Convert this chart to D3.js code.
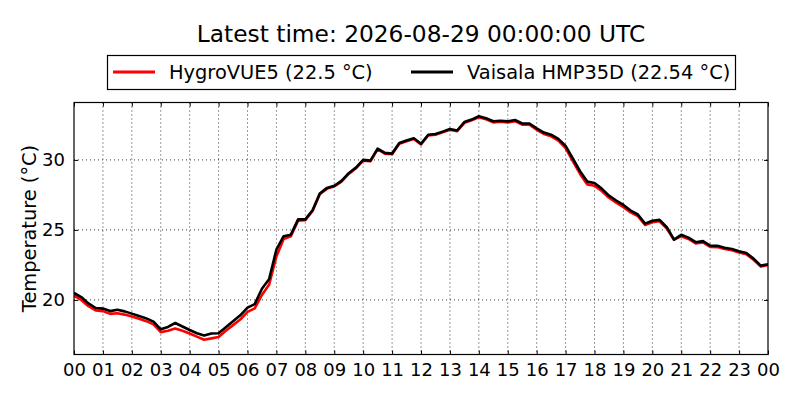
<!DOCTYPE html>
<html>
<head>
<meta charset="utf-8">
<script src="https://cdn.jsdelivr.net/npm/d3@7"></script>
<style>
  body { margin: 0; background: #fff; }
  text { font-family: "DejaVu Sans", sans-serif; fill: #000; }
</style>
</head>
<body>
<div id="chart"></div>
<script>
// 15-minute samples, hours 0..24 on 2026-08-28
const hours = d3.range(0, 24.01, 0.25);

const hygroVUE5 = [
  20.3, 20.0, 19.55, 19.25, 19.2, 19.0, 19.05, 18.95,
  18.82, 18.65, 18.48, 18.25, 17.7, 17.8, 17.95, 17.8,
  17.6, 17.38, 17.15, 17.25, 17.35, 17.8, 18.2, 18.6,
  19.15, 19.4, 20.35, 21.1, 23.1, 24.35, 24.55, 25.65,
  25.7, 26.35, 27.55, 27.95, 28.1, 28.45, 29.0, 29.4,
  29.95, 29.9, 30.75, 30.45, 30.4, 31.15, 31.33, 31.5,
  31.1, 31.75, 31.8, 31.97, 32.15, 32.05, 32.65, 32.83,
  33.05, 32.9, 32.68, 32.72, 32.67, 32.77, 32.52, 32.52,
  32.15, 31.85, 31.68, 31.38, 30.85, 29.92, 29.0, 28.25,
  28.15, 27.78, 27.3, 26.95, 26.62, 26.25, 25.98, 25.35,
  25.55, 25.62, 25.1, 24.3, 24.55, 24.35, 24.03, 24.1,
  23.78, 23.77, 23.63, 23.55, 23.39, 23.27, 22.87, 22.38,
  22.5
];

const vaisalaHMP35D = [
  20.5, 20.2, 19.75, 19.42, 19.38, 19.2, 19.3, 19.18,
  19.02, 18.85, 18.68, 18.45, 17.9, 18.07, 18.35, 18.1,
  17.85, 17.62, 17.45, 17.6, 17.62, 18.05, 18.47, 18.9,
  19.45, 19.7, 20.8, 21.5, 23.6, 24.55, 24.66, 25.75,
  25.75, 26.4, 27.6, 28.0, 28.15, 28.5, 29.05, 29.45,
  30.0, 29.95, 30.8, 30.5, 30.45, 31.2, 31.38, 31.55,
  31.15, 31.8, 31.85, 32.02, 32.2, 32.1, 32.7, 32.88,
  33.12, 32.98, 32.76, 32.8, 32.75, 32.85, 32.6, 32.6,
  32.25, 31.95, 31.8, 31.5, 31.0, 30.1, 29.19, 28.45,
  28.35, 27.95, 27.45, 27.1, 26.78, 26.38, 26.1, 25.45,
  25.65, 25.72, 25.2, 24.3, 24.65, 24.45, 24.12, 24.2,
  23.88, 23.86, 23.72, 23.63, 23.47, 23.35, 22.95, 22.45,
  22.54
];

const seriesNames = ["HygroVUE5 (22.5 °C)", "Vaisala HMP35D (22.54 °C)"];
const seriesColors = ["#ff0000", "#000000"];
const xTickLabels = d3.range(0, 25).map(h => String(h % 24).padStart(2, "0"));
const yTicks = [20, 25, 30];

const width = 800;
const height = 400;
const margin = { top: 102.5, right: 32, bottom: 45.5, left: 74 };

const svg = d3
  .select("#chart")
  .append("svg")
  .attr("width", width)
  .attr("height", height);

const x = d3
  .scaleLinear()
  .domain([0, 24])
  .range([margin.left, width - margin.right]);

const y = d3
  .scaleLinear()
  .domain([16.1, 34.1])
  .range([height - margin.bottom, margin.top]);

const plotW = width - margin.left - margin.right;
const plotH = height - margin.top - margin.bottom;

// dotted grid
svg.append("g")
  .selectAll("line")
  .data(d3.range(1, 24))
  .join("line")
  .attr("x1", d => x(d)).attr("x2", d => x(d))
  .attr("y1", margin.top).attr("y2", height - margin.bottom)
  .attr("stroke", "#000").attr("stroke-width", 0.8)
  .attr("stroke-dasharray", "1,3");

svg.append("g")
  .selectAll("line")
  .data(yTicks)
  .join("line")
  .attr("x1", margin.left).attr("x2", width - margin.right)
  .attr("y1", d => y(d)).attr("y2", d => y(d))
  .attr("stroke", "#000").attr("stroke-width", 0.8)
  .attr("stroke-dasharray", "1,3");

// data lines, red first, black on top
const line = vals => d3.line()
  .x((d, i) => x(hours[i]))
  .y(d => y(d))(vals);

const plot = svg.append("g");
plot.append("clipPath").attr("id", "clip")
  .append("rect")
  .attr("x", margin.left).attr("y", margin.top)
  .attr("width", plotW).attr("height", plotH);

[hygroVUE5, vaisalaHMP35D].forEach((vals, k) => {
  plot.append("path")
    .attr("d", line(vals))
    .attr("fill", "none")
    .attr("stroke", seriesColors[k])
    .attr("stroke-width", 2.6)
    .attr("stroke-linejoin", "round")
    .attr("clip-path", "url(#clip)");
});

// axes with inward ticks on all four sides
const xAxis = g => g
  .attr("transform", `translate(0,${height - margin.bottom})`)
  .call(d3.axisBottom(x).tickValues(d3.range(0, 25)).tickSize(-4).tickPadding(9)
    .tickFormat((d, i) => xTickLabels[i]))
  .call(g => g.select(".domain").remove())
  .call(g => g.selectAll("text").attr("font-size", 18).attr("font-family", "DejaVu Sans"));

const yAxis = g => g
  .attr("transform", `translate(${margin.left},0)`)
  .call(d3.axisLeft(y).tickValues(yTicks).tickSize(-4).tickPadding(9))
  .call(g => g.select(".domain").remove())
  .call(g => g.selectAll("text").attr("font-size", 18).attr("font-family", "DejaVu Sans"));

svg.append("g").call(xAxis);
svg.append("g").call(yAxis);

svg.append("g")
  .attr("transform", `translate(0,${margin.top})`)
  .call(d3.axisTop(x).tickValues(d3.range(0, 25)).tickSize(-4).tickFormat(""))
  .call(g => g.select(".domain").remove());

svg.append("g")
  .attr("transform", `translate(${width - margin.right},0)`)
  .call(d3.axisRight(y).tickValues(yTicks).tickSize(-4).tickFormat(""))
  .call(g => g.select(".domain").remove());

svg.selectAll(".tick line").attr("stroke", "#000").attr("stroke-width", 1);

svg.append("rect")
  .attr("x", margin.left).attr("y", margin.top)
  .attr("width", plotW).attr("height", plotH)
  .attr("fill", "none").attr("stroke", "#000").attr("stroke-width", 1.2);

// y title
svg.append("text")
  .attr("transform", `translate(36,${margin.top + plotH / 2}) rotate(-90)`)
  .attr("text-anchor", "middle")
  .attr("font-size", 19.4)
  .text("Temperature (°C)");

// title
svg.append("text")
  .attr("x", margin.left + plotW / 2)
  .attr("y", 42)
  .attr("text-anchor", "middle")
  .attr("font-size", 23.3)
  .text("Latest time: 2026-08-29 00:00:00 UTC");

// legend
const legend = svg.append("g");
legend.append("rect")
  .attr("x", 107.5).attr("y", 55.5)
  .attr("width", 628).attr("height", 34)
  .attr("fill", "#fff").attr("stroke", "#000").attr("stroke-width", 1.2);

const legendX = [113, 411];
seriesNames.forEach((name, k) => {
  legend.append("line")
    .attr("x1", legendX[k]).attr("x2", legendX[k] + 42)
    .attr("y1", 72).attr("y2", 72)
    .attr("stroke", seriesColors[k]).attr("stroke-width", 3);
  legend.append("text")
    .attr("x", legendX[k] + 56)
    .attr("y", 79)
    .attr("font-size", 19.4)
    .text(name);
});
</script>
</body>
</html>
